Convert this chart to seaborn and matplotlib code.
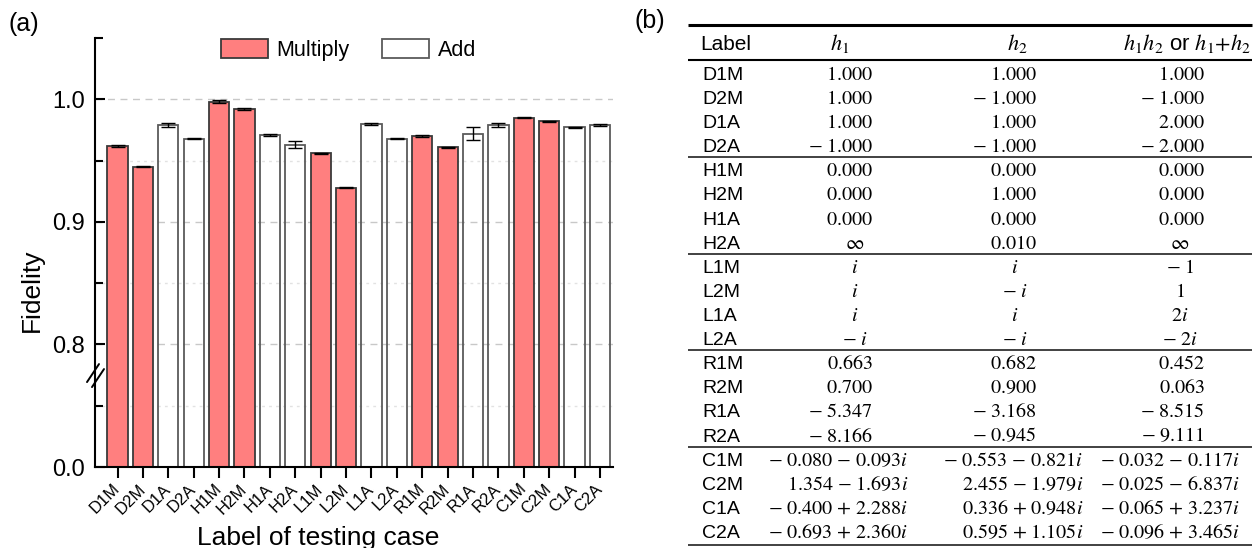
import numpy as np
import pandas as pd
import seaborn as sns
import matplotlib.pyplot as plt
from matplotlib.patches import Patch

# ---- data: panel (a) bar chart ----
labels = ["D1M", "D2M", "D1A", "D2A", "H1M", "H2M", "H1A", "H2A", "L1M", "L2M",
          "L1A", "L2A", "R1M", "R2M", "R1A", "R2A", "C1M", "C2M", "C1A", "C2A"]
operation = ["Multiply" if lab.endswith("M") else "Add" for lab in labels]
fidelity = [0.962, 0.945, 0.979, 0.968, 0.998, 0.992, 0.971, 0.963, 0.956, 0.928,
            0.980, 0.968, 0.970, 0.961, 0.972, 0.979, 0.985, 0.982, 0.977, 0.979]
fidelity_err = [0.0006, 0.0004, 0.0014, 0.0006, 0.0012, 0.0010, 0.0008, 0.0027, 0.0004, 0.0004,
                0.0007, 0.0004, 0.0006, 0.0004, 0.0050, 0.0018, 0.0005, 0.0005, 0.0005, 0.0006]
yticks_major = [0.0, 0.8, 0.9, 1.0]
yticks_minor = [0.05, 0.85, 0.95, 1.05]

# ---- data: panel (b) table ----
headers = ["Label", r"$h_1$", r"$h_2$", r"$h_1h_2$ or $h_1{+}h_2$"]
h1 = ["1.000", "1.000", "1.000", "-1.000", "0.000", "0.000", "0.000", "∞",
      "i", "i", "i", "-i", "0.663", "0.700", "-5.347", "-8.166",
      "-0.080 - 0.093i", "1.354 - 1.693i", "-0.400 + 2.288i", "-0.693 + 2.360i"]
h2 = ["1.000", "-1.000", "1.000", "-1.000", "0.000", "1.000", "0.000", "0.010",
      "i", "-i", "i", "-i", "0.682", "0.900", "-3.168", "-0.945",
      "-0.553 - 0.821i", "2.455 - 1.979i", "0.336 + 0.948i", "0.595 + 1.105i"]
h12 = ["1.000", "-1.000", "2.000", "-2.000", "0.000", "0.000", "0.000", "∞",
       "-1", "1", "2i", "-2i", "0.452", "0.063", "-8.515", "-9.111",
       "-0.032 - 0.117i", "-0.025 - 6.837i", "-0.065 + 3.237i", "-0.096 + 3.465i"]

RED = "#FF7F7F"
colors = {"Multiply": RED, "Add": "white"}
edges = {"Multiply": "#3a3a3a", "Add": "#5a5a5a"}

sns.set_style("ticks")
plt.rcParams["font.family"] = ["Liberation Sans", "DejaVu Sans"]
plt.rcParams["mathtext.fontset"] = "stix"
for key in ["text.color", "axes.labelcolor", "xtick.color", "ytick.color"]:
    plt.rcParams[key] = "black"

# broken y axis: 0.075 .. 0.775 squeezed out
LO, HI = 0.075, 0.775


def fwd(y):
    y = np.asarray(y, dtype=float)
    return np.where(y <= LO, y, np.where(y >= HI, y - (HI - LO), LO))


def inv(y):
    y = np.asarray(y, dtype=float)
    return np.where(y <= LO, y, y + (HI - LO))


fig = plt.figure(figsize=(12.56, 5.48), dpi=100)
ax = fig.add_axes([95 / 1256, 81 / 548, 518 / 1256, 429 / 548])

df = pd.DataFrame({"label": labels, "op": operation, "fid": fidelity})
sns.barplot(data=df, x="label", y="fid", hue="op", hue_order=["Multiply", "Add"],
            palette=colors, saturation=1, dodge=False, width=0.8, errorbar=None,
            linewidth=1.3, legend=False, ax=ax, zorder=2)
for p in ax.patches:
    if tuple(p.get_facecolor()[:3]) == (1.0, 1.0, 1.0):
        p.set_edgecolor(edges["Add"])
        p.set_facecolor("none")
    else:
        p.set_edgecolor(edges["Multiply"])

ax.errorbar(np.arange(len(labels)), fidelity, yerr=fidelity_err, fmt="none",
            ecolor="black", elinewidth=1, capsize=5, capthick=1, zorder=3)

ax.set_yscale("function", functions=(fwd, inv))
ax.set_ylim(0, 1.05)
ax.set_xlim(-0.886, 19.51)
ax.set_yticks(yticks_major)
ax.set_yticklabels([f"{v:.1f}" for v in yticks_major])
ax.set_yticks(yticks_minor, minor=True)

for v in yticks_major[1:]:
    ax.axhline(v, color="#c8c8c8", lw=1, ls=(0, (5, 4)), zorder=0.5)
for v in yticks_minor[:-1]:
    ax.axhline(v, color="#e2e2e2", lw=1, ls=(0, (2, 3)), zorder=0.5)

ax.set_xticks(np.arange(len(labels)))
ax.set_xticklabels(labels, rotation=45, ha="right", va="center", rotation_mode="anchor")
ax.tick_params(axis="x", direction="out", length=8, width=1.5, labelsize=12, pad=6)
ax.tick_params(axis="y", which="major", direction="in", length=7, width=1.5,
               labelsize=17, pad=7)
ax.tick_params(axis="y", which="minor", direction="in", length=6, width=1.5)
for side in ["top", "right"]:
    ax.spines[side].set_visible(False)
for side in ["left", "bottom"]:
    ax.spines[side].set_linewidth(1.5)
    ax.spines[side].set_color("black")

ax.set_ylabel("Fidelity", fontsize=19)
ax.set_xlabel("Label of testing case", fontsize=19)
ax.yaxis.set_label_coords(-0.098, 0.4126)
ax.xaxis.set_label_coords(0.43, -0.1375)

# break marks on the y axis
ax_w, ax_h = 518.0, 429.0
yb = float(fwd(HI) / fwd(1.05))
for off in (0, 5):
    ax.plot([(-8 + off) / ax_w, (4 + off) / ax_w],
            [yb + (-12 - off + 5) / ax_h, yb + (6 - off + 5) / ax_h],
            transform=ax.transAxes, color="black", lw=1.4, clip_on=False, zorder=5)

ax.legend(handles=[Patch(facecolor=colors[k], edgecolor=edges[k], lw=1.3, label=k)
                   for k in ["Multiply", "Add"]],
          ncol=2, frameon=False, loc="center left", bbox_to_anchor=(0.226, 0.972),
          fontsize=15.5, handlelength=2.2, handleheight=1.0, handletextpad=0.4,
          columnspacing=1.5, borderaxespad=0)

# ---- panel (b): table drawn on a pixel-coordinate overlay ----
tab = fig.add_axes([0, 0, 1, 1])
tab.set_xlim(0, 1256)
tab.set_ylim(548, 0)
tab.axis("off")

fig.text(8 / 1256, 1 - 31 / 548, "(a)", fontsize=18)
fig.text(635 / 1256, 1 - 28 / 548, "(b)", fontsize=18)

label_x = 702
centers = [855, 1015, 1180]
num_right = [873, 1037, 1205]
cplx_right = [908, 1083, 1240]
y0, step = 80.0, 24.1
line_x = (688, 1252)


def to_math(s):
    s = s.replace("∞", r"\infty")
    s = s.replace(" - ", r"\ {-}\ ").replace(" + ", r"\ {+}\ ")
    if s.startswith("-"):
        s = r"{-}\ " + s[1:]
    return f"${s}$"


tab.text(label_x - 2, 50, headers[0], fontsize=15, va="baseline", ha="left")
for c, htxt in zip([840, 1017, 1187], headers[1:]):
    tab.text(c, 50, htxt, fontsize=16, va="baseline", ha="center")

for i, lab in enumerate(labels):
    yb_row = y0 + step * i
    tab.text(label_x, yb_row, lab, fontsize=14, va="baseline", ha="left")
    for j, col in enumerate([h1, h2, h12]):
        s = col[i]
        if "." in s and "i" in s:
            x, ha = cplx_right[j], "right"
        elif "." in s:
            x, ha = num_right[j], "right"
        else:
            x, ha = centers[j], "center"
        tab.text(x, yb_row, to_math(s), fontsize=14.5, va="baseline", ha=ha)

tab.hlines(25, *line_x, color="black", lw=2.2)
tab.hlines(60, *line_x, color="black", lw=1.5)
seps = [i for i in range(1, len(labels)) if labels[i][0] != labels[i - 1][0]]
for k in seps:
    tab.hlines(y0 + step * (k - 1) + 5, *line_x, color="#333333", lw=1.3)
tab.hlines(y0 + step * (len(labels) - 1) + 7, *line_x, color="#333333", lw=1.3)

fig.savefig("out.png", dpi=100)
